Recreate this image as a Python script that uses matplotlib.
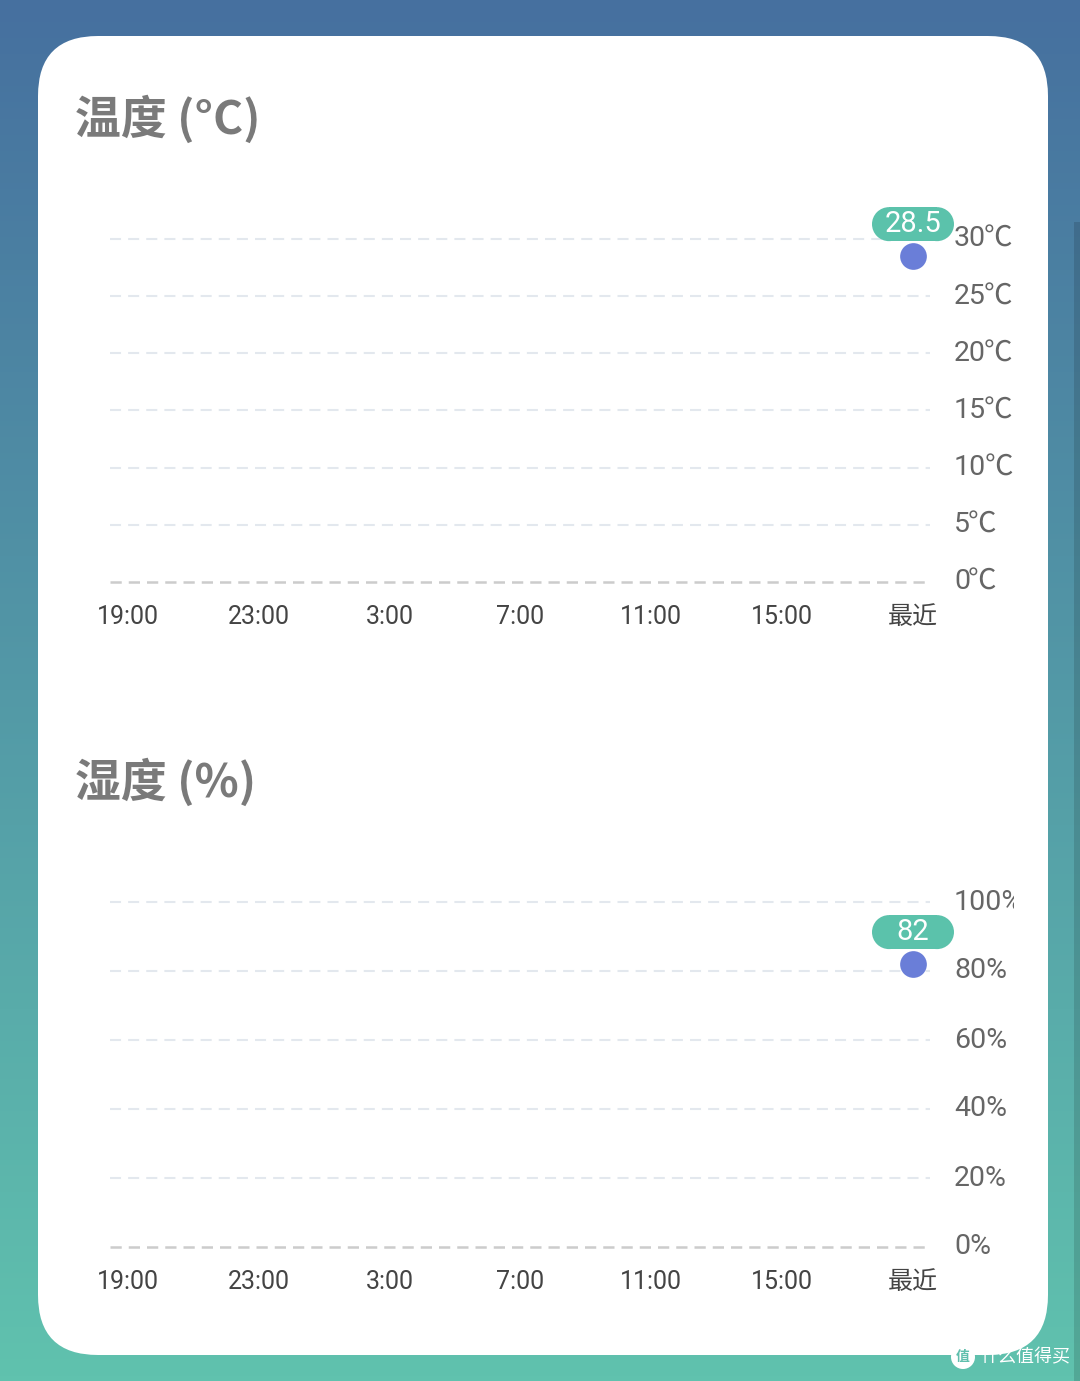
import numpy as np
import matplotlib.pyplot as plt
import matplotlib.transforms as mtransforms
from matplotlib.patches import FancyBboxPatch, Rectangle, Circle

plt.rcParams['font.family'] = ['Roboto', 'Noto Sans CJK SC', 'DejaVu Sans']

# Data
hours = ['19:00', '23:00', '3:00', '7:00', '11:00', '15:00', '最近']
temperature = [np.nan, np.nan, np.nan, np.nan, np.nan, np.nan, 28.5]
humidity = [np.nan, np.nan, np.nan, np.nan, np.nan, np.nan, 82]
temp_ticks = [0, 5, 10, 15, 20, 25, 30]
temp_tick_labels = ['0℃', '5℃', '10℃', '15℃', '20℃', '25℃', '30℃']
hum_ticks = [0, 20, 40, 60, 80, 100]
hum_tick_labels = ['0%', '20%', '40%', '60%', '80%', '100%']

W, H = 1080, 1381
fig = plt.figure(figsize=(W / 100, H / 100), dpi=100)

# background in pixel coords (top-down)
bg = fig.add_axes([0, 0, 1, 1])
bg.set_xlim(0, W)
bg.set_ylim(H, 0)
bg.axis('off')
top = np.array([0x46, 0x70, 0x9f]) / 255
bottom = np.array([0x60, 0xc2, 0xae]) / 255
t = np.linspace(0, 1, 256)[:, None]
grad = top[None, :] * (1 - t) + bottom[None, :] * t
bg.imshow(grad[:, None, :], extent=[0, W, H, 0], aspect='auto', zorder=0)

card = FancyBboxPatch((38, 36), 1010, 1319, boxstyle='round,pad=0,rounding_size=60',
                      fc='white', ec='none', zorder=1)
bg.add_patch(card)
bg.add_patch(Rectangle((1074, 222), 6, H - 222, fc='black', alpha=0.13, ec='none', zorder=1))

bg.text(75, 120, '温度 (°C)', fontsize=33, fontweight='bold', color='#7a7a7a',
        va='center', ha='left', family=['Noto Sans CJK SC'], zorder=2)
bg.text(75, 783, '湿度 (%)', fontsize=33, fontweight='bold', color='#7a7a7a',
        va='center', ha='left', family=['Noto Sans CJK SC'], zorder=2)

# watermark
bg.add_patch(Circle((963, 1357), 12, fc='white', ec='none', zorder=2))
bg.text(963, 1357, '值', fontsize=10, color='#5fbfad', ha='center', va='center',
        family=['Noto Sans CJK SC'], fontweight='bold', zorder=3)
bg.text(980, 1357, '什么值得买', fontsize=13, color='white', ha='left', va='center',
        family=['Noto Sans CJK SC'], zorder=3)

clip = mtransforms.TransformedBbox(mtransforms.Bbox([[0, 0], [1014 / W, 1]]), fig.transFigure)


def make_chart(y_top, y_bottom, ymax, values, ticks, tick_labels, label_text):
    ax = fig.add_axes([110 / W, (H - y_bottom) / H, 820 / W, (y_bottom - y_top) / H])
    ax.set_xlim(-0.1376, 6.13)
    ax.set_ylim(0, ymax)
    ax.axis('off')
    lab_trans = mtransforms.blended_transform_factory(bg.transData, ax.transData)
    for v, lab in zip(ticks, tick_labels):
        if v == 0:
            ax.axhline(v, color='#cccccc', lw=1.8, linestyle=(0, (4.5, 2.8)), clip_on=False)
        else:
            ax.axhline(v, color='#e3e8ee', lw=1.5, linestyle=(0, (5.3, 3.4)), clip_on=False)
        if lab.endswith('℃'):
            num = ax.text(954, v, lab[:-1], fontsize=20.5, color='#666666',
                          ha='left', va='center', transform=lab_trans)
            unit = ax.annotate('℃', xy=(1, 0.5), xycoords=num, xytext=(-1.5, 0),
                               textcoords='offset points', fontsize=20.5, color='#666666',
                               ha='left', va='center', family=['Noto Sans CJK SC'])
            unit.set_clip_box(clip)
            unit.set_clip_on(True)
        else:
            num = ax.text(954, v, lab, fontsize=20.5, color='#666666',
                          ha='left', va='center', transform=lab_trans)
        num.set_clip_box(clip)
        num.set_clip_on(True)
    xs = np.arange(len(hours))
    for i, h in enumerate(hours):
        ax.text(xs[i], -35 * ymax / (y_bottom - y_top), h, fontsize=18, color='#444444',
                ha='center', va='center')
    ax.scatter(xs, values, s=370, color='#6a7ed8', zorder=5, clip_on=False, linewidths=0)
    last = len(values) - 1
    # pill label, sized in pixels, anchored on the last point
    pill_trans = mtransforms.Affine2D() + mtransforms.ScaledTranslation(
        xs[last], values[last], ax.transData)
    for p in [Rectangle((-24, 15), 48, 34), Circle((-24, 32), 17), Circle((24, 32), 17)]:
        p.set_facecolor('#5bc2ab')
        p.set_edgecolor('none')
        p.set_transform(pill_trans)
        p.set_zorder(6)
        p.set_clip_on(False)
        ax.add_patch(p)
    off = 32 * ymax / (y_bottom - y_top)
    ax.text(xs[last], values[last] + off, label_text, fontsize=21, color='white',
            ha='center', va='center', zorder=7, clip_on=False)
    return ax


make_chart(239, 582, 30, temperature, temp_ticks, temp_tick_labels, '28.5')
make_chart(902, 1247, 100, humidity, hum_ticks, hum_tick_labels, '82')

fig.savefig('out.png', dpi=100)
